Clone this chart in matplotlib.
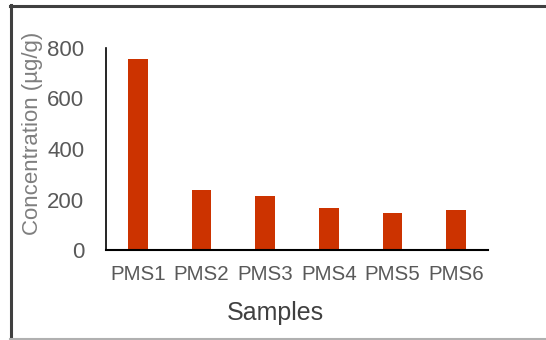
import matplotlib
matplotlib.use("Agg")
import matplotlib.pyplot as plt
from matplotlib.lines import Line2D

samples = ["PMS1", "PMS2", "PMS3", "PMS4", "PMS5", "PMS6"]
conc = [755, 239, 215, 167, 145, 160]
yticks = [0, 200, 400, 600, 800]

plt.rcParams['font.family'] = ['Liberation Sans', 'DejaVu Sans']

fig = plt.figure(figsize=(5.46, 3.40), dpi=100)
ax = fig.add_axes([106/546, 1-250/340, 382/546, 202/340])

ax.bar(range(len(samples)), conc, width=0.31, color="#CC3300")
ax.set_xlim(-0.5, 5.5)
ax.set_ylim(0, 800)
ax.set_yticks(yticks)
ax.set_xticks(range(len(samples)))
ax.set_xticklabels(samples)

for s in ["top", "right"]:
    ax.spines[s].set_visible(False)
ax.spines["left"].set_linewidth(1.2)
ax.spines["bottom"].set_linewidth(1.5)
ax.tick_params(axis="y", length=0, pad=15.5, labelsize=16, labelcolor="#595959")
ax.tick_params(axis="x", length=0, pad=11, labelsize=14.8, labelcolor="#595959")

fig.text(275/546, 1-320/340, "Samples", ha="center", va="baseline",
         fontsize=18, color="#404040")
fig.text(33/546, 1-133/340, "Concentration (µg/g)", rotation=90,
         ha="center", va="center", fontsize=16, color="#7f7f7f")

# outer frame
fig.add_artist(Line2D([10/546, 1], [1-5.5/340, 1-5.5/340], color="#404040", lw=2.2))
fig.add_artist(Line2D([10.5/546, 10.5/546], [1-5/340, 1/340], color="#404040", lw=2.2))
fig.add_artist(Line2D([10/546, 1], [1.2/340, 1.2/340], color="#b0b0b0", lw=1.5))

fig.savefig("out.png", dpi=100)
